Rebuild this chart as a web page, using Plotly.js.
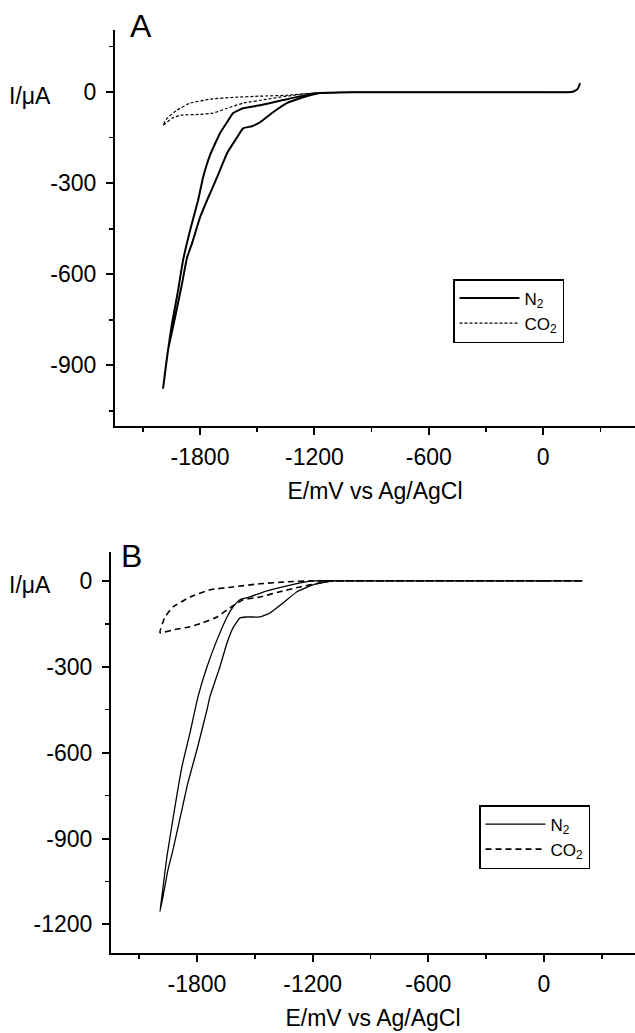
<!DOCTYPE html>
<html>
<head>
<meta charset="utf-8">
<script src="https://cdn.plot.ly/plotly-3.0.1.min.js"></script>
<style>html,body{margin:0;padding:0;background:#fff;}#chart{width:635px;height:1033px;}</style>
</head>
<body>
<div id="chart"></div>
<script>
// Panel A, N2 (solid)
const aN2E = [194, 188, 180, 165, 150, 0, -600, -1000, -1170, -1275, -1344, -1417, -1485, -1527, -1574, -1606, -1658, -1711, -1763, -1800, -1842, -1868, -1894, -1931, -1968, -1994, -1968, -1947, -1915, -1889, -1852, -1810, -1784, -1748, -1695, -1658, -1627, -1574, -1485, -1365, -1186, -1000, -600, 0, 150];
const aN2I = [30, 20, 10, 4, 1, 0, 0, 0, -3, -20, -36, -66, -99, -112, -119, -149, -201, -281, -356, -413, -498, -545, -630, -743, -851, -977, -851, -762, -653, -554, -455, -356, -281, -208, -135, -99, -69, -53, -43, -26, -3, 0, 0, 0, 0];
// Panel A, CO2 (dotted)
const aCO2E = [150, 0, -600, -1000, -1207, -1344, -1485, -1627, -1748, -1852, -1921, -1973, -1994, -1947, -1905, -1800, -1732, -1658, -1574, -1448, -1344, -1207, -1000, -600, 0, 150];
const aCO2I = [0, 0, 0, 0, -3, -10, -13, -17, -23, -36, -59, -86, -109, -86, -76, -73, -69, -53, -36, -23, -13, -3, 0, 0, 0, 0];
// Panel B, N2 (solid)
const bN2E = [200, 0, -600, -1000, -1095, -1198, -1281, -1354, -1421, -1473, -1541, -1577, -1613, -1644, -1681, -1733, -1748, -1800, -1847, -1878, -1924, -1950, -1976, -1992, -1982, -1956, -1914, -1878, -1836, -1795, -1748, -1696, -1644, -1613, -1577, -1525, -1437, -1333, -1198, -1000, -600, 0, 200];
const bN2I = [0, 0, 0, 0, 0, -14, -38, -77, -112, -126, -126, -129, -164, -216, -300, -405, -450, -589, -705, -799, -938, -1008, -1102, -1155, -1102, -963, -788, -649, -530, -405, -300, -206, -126, -91, -66, -56, -35, -17, 0, 0, 0, 0, 0];
// Panel B, CO2 (dashed)
const bCO2E = [200, 0, -600, -1000, -1198, -1333, -1473, -1613, -1733, -1836, -1924, -1966, -1992, -1924, -1836, -1769, -1696, -1629, -1561, -1473, -1370, -1266, -1162, -1095, -1000, -600, 0, 200];
const bCO2I = [0, 0, 0, 0, 0, -3, -10, -21, -31, -56, -91, -126, -181, -171, -160, -146, -126, -94, -66, -56, -38, -21, -7, 0, 0, 0, 0, 0];

// Tick values and labels
const xTickVals = [-1800, -1200, -600, 0];
const xTickText = ['-1800', '-1200', '-600', '0'];
const aYTickVals = [-900, -600, -300, 0];
const aYTickText = ['-900', '-600', '-300', '0'];
const bYTickVals = [-1200, -900, -600, -300, 0];
const bYTickText = ['-1200', '-900', '-600', '-300', '0'];

const seriesNames = ['N<sub>2</sub>', 'CO<sub>2</sub>'];
const panelLabels = ['A', 'B'];
const xTitle = 'E/mV vs Ag/AgCl';
const yTitle = 'I/\u03bcA';

const FONT = 'Liberation Sans, Arial, Helvetica, sans-serif';
const W = 635, H = 1033;

const traces = [
  {x: aCO2E, y: aCO2I, xaxis: 'x', yaxis: 'y', mode: 'lines', name: seriesNames[1], legend: 'legend', legendrank: 2,
   line: {color: '#000', width: 1.2, dash: '3px,2px', shape: 'spline', smoothing: 0.4}},
  {x: aN2E, y: aN2I, xaxis: 'x', yaxis: 'y', mode: 'lines', name: seriesNames[0], legend: 'legend', legendrank: 1,
   line: {color: '#000', width: 2, shape: 'spline', smoothing: 0.4}},
  {x: bCO2E, y: bCO2I, xaxis: 'x2', yaxis: 'y2', mode: 'lines', name: seriesNames[1], legend: 'legend2', legendrank: 2,
   line: {color: '#000', width: 1.6, dash: '6px,4px', shape: 'spline', smoothing: 0.4}},
  {x: bN2E, y: bN2I, xaxis: 'x2', yaxis: 'y2', mode: 'lines', name: seriesNames[0], legend: 'legend2', legendrank: 1,
   line: {color: '#000', width: 1.3, shape: 'spline', smoothing: 0.4}}
];

function xAxis(domain, range, anchor, standoff) {
  return {
    domain: domain, range: range, anchor: anchor, showgrid: false, zeroline: false,
    showline: true, linecolor: '#000', linewidth: 2,
    ticks: 'outside', ticklen: 7, tickwidth: 2, tickcolor: '#000',
    tickmode: 'array', tickvals: xTickVals, ticktext: xTickText, ticklabelstandoff: 2,
    minor: {dtick: 300, tick0: 0, ticks: 'outside', ticklen: 4, tickwidth: 1.5, tickcolor: '#000', showgrid: false},
    tickfont: {family: FONT, size: 23, color: '#000'},
    title: {text: xTitle, font: {family: FONT, size: 23, color: '#000'}, standoff: standoff},
    fixedrange: true
  };
}
function yAxis(domain, range, anchor, vals, text) {
  return {
    domain: domain, range: range, anchor: anchor, showgrid: false, zeroline: false,
    showline: true, linecolor: '#000', linewidth: 2,
    ticks: 'outside', ticklen: 7, tickwidth: 2, tickcolor: '#000',
    tickmode: 'array', tickvals: vals, ticktext: text, ticklabelstandoff: 5,
    minor: {dtick: 150, tick0: 0, ticks: 'outside', ticklen: 4, tickwidth: 1.5, tickcolor: '#000', showgrid: false},
    tickfont: {family: FONT, size: 23, color: '#000'},
    fixedrange: true
  };
}

const layout = {
  width: W, height: H,
  margin: {l: 0, r: 0, t: 0, b: 0},
  paper_bgcolor: '#fff', plot_bgcolor: '#fff',
  showlegend: true,
  xaxis: xAxis([115 / W, 1], [-2246, 482], 'y', 14),
  yaxis: yAxis([1 - 426 / H, 1 - 30 / H], [-1100, 205], 'x', aYTickVals, aYTickText),
  xaxis2: xAxis([111 / W, 1], [-2246, 472], 'y2', 14),
  yaxis2: yAxis([1 - 953 / H, 1 - 552 / H], [-1300, 101], 'x2', bYTickVals, bYTickText),
  legend: {x: 453 / W, y: 1 - 279 / H, xanchor: 'left', yanchor: 'top', bgcolor: '#fff',
           bordercolor: '#000', borderwidth: 1.5, font: {family: FONT, size: 17, color: '#000'},
           itemwidth: 60, tracegroupgap: 0, traceorder: 'normal'},
  legend2: {x: 479 / W, y: 1 - 805 / H, xanchor: 'left', yanchor: 'top', bgcolor: '#fff',
           bordercolor: '#000', borderwidth: 1.5, font: {family: FONT, size: 17, color: '#000'},
           itemwidth: 60, tracegroupgap: 0, traceorder: 'normal'},
  annotations: [
    {text: panelLabels[0], xref: 'paper', yref: 'paper', x: 128 / W, y: 1 - 26 / H, xanchor: 'left', yanchor: 'middle',
     showarrow: false, font: {family: FONT, size: 32, color: '#000'}},
    {text: panelLabels[1], xref: 'paper', yref: 'paper', x: 119 / W, y: 1 - 556 / H, xanchor: 'left', yanchor: 'middle',
     showarrow: false, font: {family: FONT, size: 32, color: '#000'}},
    {text: yTitle, xref: 'paper', yref: 'y', x: 7 / W, y: 0, yshift: -4, xanchor: 'left', yanchor: 'middle',
     showarrow: false, font: {family: FONT, size: 23, color: '#000'}},
    {text: yTitle, xref: 'paper', yref: 'y2', x: 7 / W, y: 0, yshift: -4, xanchor: 'left', yanchor: 'middle',
     showarrow: false, font: {family: FONT, size: 23, color: '#000'}}
  ]
};

Plotly.newPlot('chart', traces, layout, {staticPlot: true, displayModeBar: false});
</script>
</body>
</html>
